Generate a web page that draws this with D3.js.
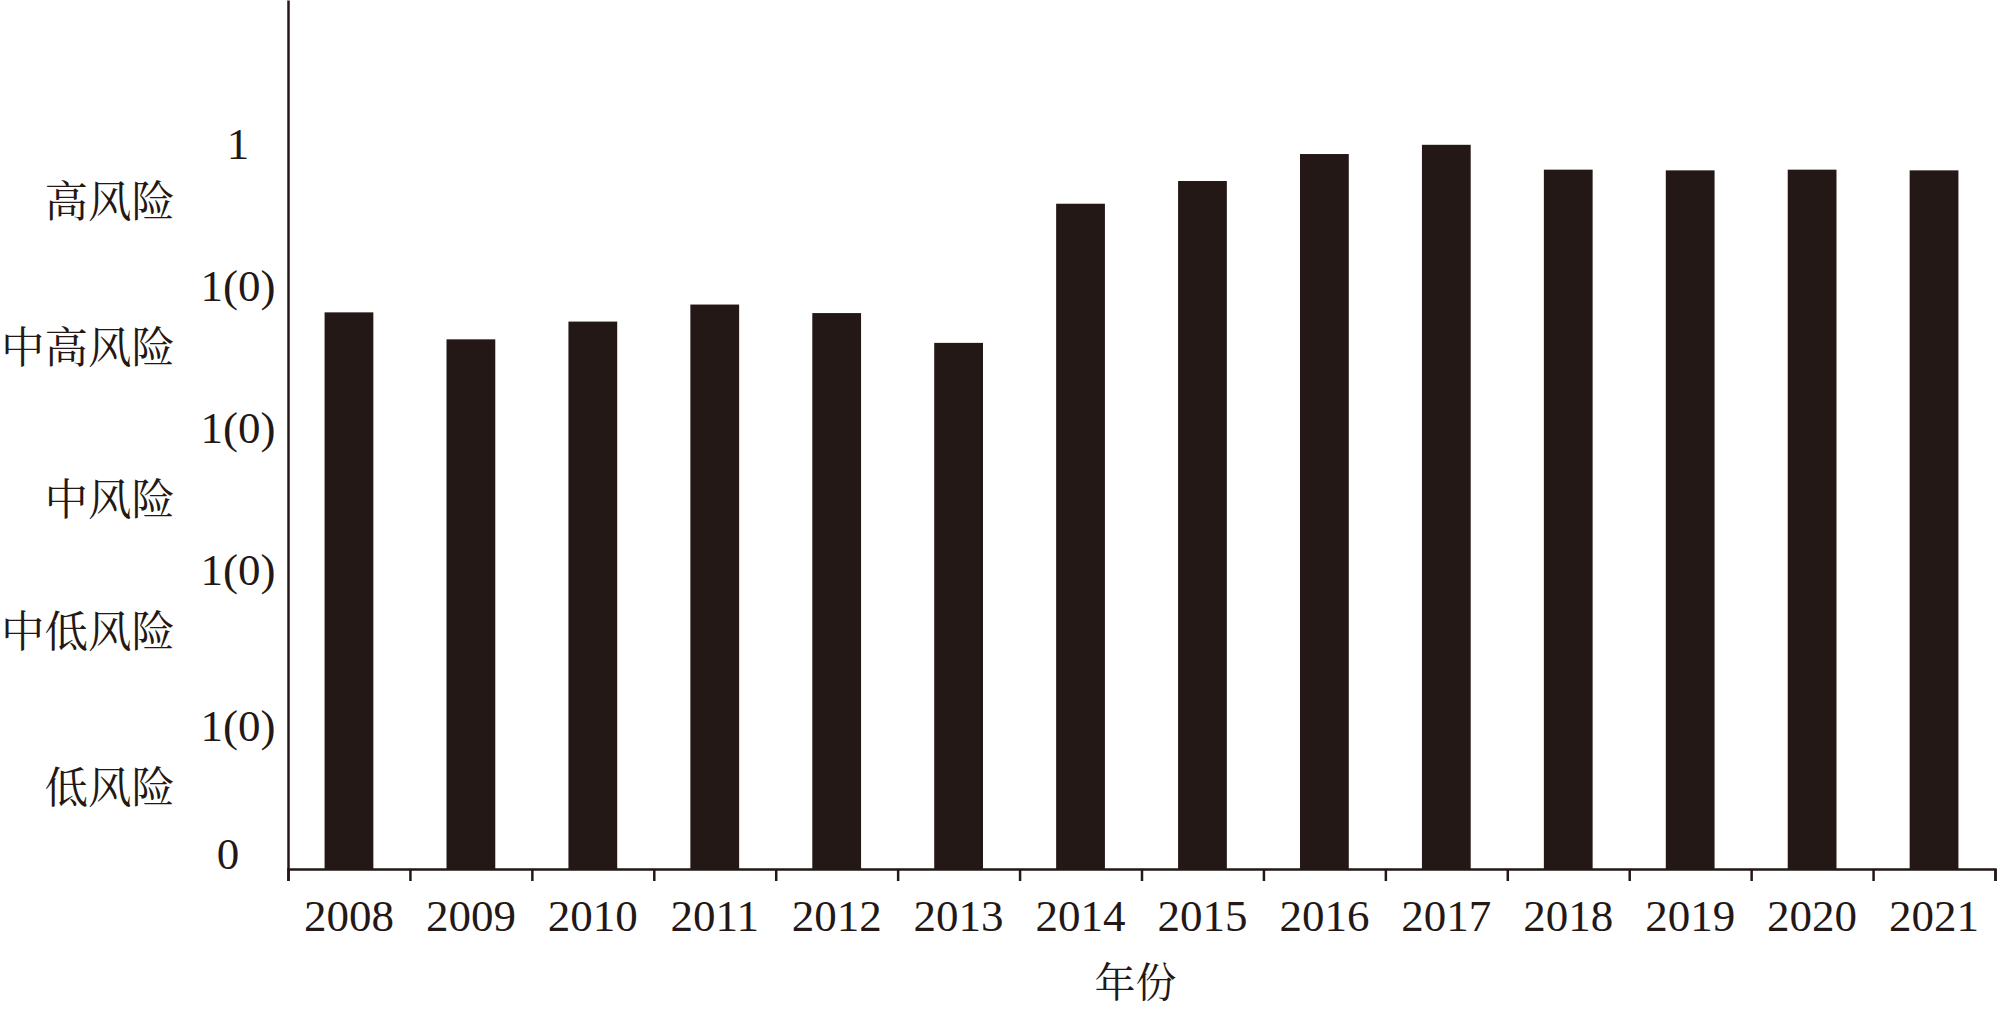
<!DOCTYPE html>
<html>
<head>
<meta charset="utf-8">
<script src="https://cdn.jsdelivr.net/npm/d3@7"></script>
<style>
  html, body { margin: 0; padding: 0; background: #fff; }
  svg { display: block; }
</style>
</head>
<body>
<svg id="chart" width="2000" height="1009"></svg>
<script>
// ---- data ----
const years = ["2008","2009","2010","2011","2012","2013","2014","2015","2016","2017","2018","2019","2020","2021"];
const values = [0.784, 0.746, 0.771, 0.795, 0.783, 0.741, 0.937, 0.969, 1.007, 1.020, 0.985, 0.984, 0.985, 0.984];
const numTickValues = [0, 0.18, 0.4, 0.6, 0.8, 1];
const numTickLabels = ["0", "1(0)", "1(0)", "1(0)", "1(0)", "1"];
const riskValues = [0.115, 0.335, 0.52, 0.735, 0.94];
const riskLabels = ["低风险", "中低风险", "中风险", "中高风险", "高风险"];
const xTitle = "年份";

// ---- layout ----
const mLeft = 288, mRight = 1995, mBase = 869, mTop = 0;
const ink = "#231815";
const serif = "'Liberation Serif','Times New Roman',serif";
const cjk = "'Noto Serif CJK SC','Noto Sans CJK SC',serif";

const svg = d3.select("#chart");

const x = d3.scaleBand().domain(years).range([mLeft, mRight]).paddingInner(0.6).paddingOuter(0.3);
const xEdges = d3.scaleLinear().domain([0, years.length]).range([mLeft, mRight]);
const y = d3.scaleLinear().domain([0, (mBase - mTop) / 710]).range([mBase, mTop]);

// bars
svg.append("g").selectAll("rect").data(values).join("rect")
  .attr("x", (d, i) => x(years[i]))
  .attr("y", d => y(d))
  .attr("width", x.bandwidth())
  .attr("height", d => y(0) - y(d))
  .attr("fill", ink);

// x axis with ticks at band edges
const gx = svg.append("g").attr("transform", `translate(0,${mBase})`)
  .call(d3.axisBottom(xEdges).tickValues(d3.range(0, years.length + 1)).tickSize(12).tickFormat(""));
gx.selectAll("path,line").attr("stroke", ink).attr("stroke-width", 2.5);

// year labels
const gxl = svg.append("g").attr("transform", `translate(0,${mBase})`)
  .call(d3.axisBottom(x).tickSize(0).tickPadding(30));
gxl.select(".domain").remove();
gxl.selectAll("text").attr("font-family", serif).attr("font-size", 45).attr("fill", ink)
  .attr("dy", "0.71em");

// y axis
const gy = svg.append("g").attr("transform", `translate(${mLeft},0)`)
  .call(d3.axisLeft(y).tickValues([]).tickSizeOuter(0));
gy.select(".domain").attr("stroke", ink).attr("stroke-width", 2.5);

// numeric labels
svg.append("g").selectAll("text").data(numTickValues).join("text")
  .attr("x", d => d === 0 ? 228 : 238)
  .attr("y", d => y(d) - 16)
  .attr("dy", "0.35em")
  .attr("text-anchor", "middle")
  .attr("font-family", serif).attr("font-size", 45).attr("fill", ink)
  .text((d, i) => numTickLabels[i]);

// risk labels
svg.append("g").selectAll("text").data(riskValues).join("text")
  .attr("x", 175)
  .attr("y", d => y(d))
  .attr("dy", "0.36em")
  .attr("text-anchor", "end")
  .attr("font-family", cjk).attr("font-size", 43.5).attr("fill", ink)
  .text((d, i) => riskLabels[i]);

// x title
svg.append("text")
  .attr("x", (mLeft + mRight) / 2 - 6)
  .attr("y", 982)
  .attr("dy", "0.36em")
  .attr("text-anchor", "middle")
  .attr("font-family", cjk).attr("font-size", 41).attr("fill", ink)
  .text(xTitle);
</script>
</body>
</html>
